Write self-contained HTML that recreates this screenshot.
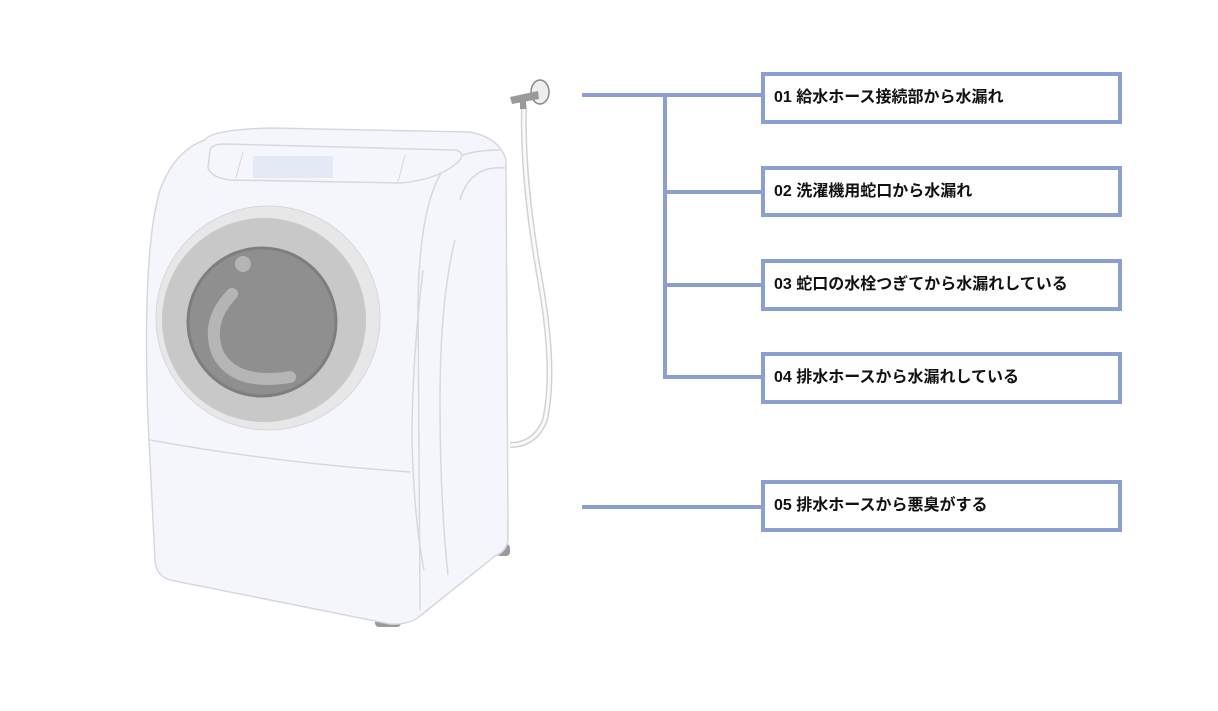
<!DOCTYPE html>
<html><head><meta charset="utf-8"><style>
html,body{margin:0;padding:0;background:#fff;}
body{width:1218px;height:711px;position:relative;overflow:hidden;font-family:"Liberation Sans","Noto Sans CJK JP",sans-serif;}
.box{position:absolute;left:761px;width:344px;border:4px solid #8c9fd2;background:#fff;box-sizing:content-box;font-weight:bold;font-size:16px;color:#111;line-height:44px;padding-left:9px;}
.l{position:absolute;background:#8c9fd2;}
</style></head><body>
<svg width="1218" height="711" style="position:absolute;left:0;top:0">
 <rect x="180" y="570" width="22" height="12" rx="4" fill="#9a9a9a"/>
 <rect x="375" y="615" width="26" height="12" rx="4" fill="#9a9a9a"/>
 <rect x="496" y="544" width="14" height="12" rx="4" fill="#9a9a9a"/>
 <path d="M205,140 Q210,130 270,128 L470,132 Q500,138 506,160 L508,540 Q506,552 495,556 L420,616 Q410,625 390,624 L170,580 Q156,576 155,560 L148,420 Q142,250 160,190 Q175,150 205,140 Z" fill="#f4f6fb" stroke="#d6d8de" stroke-width="1.5"/>
 <path d="M500,150 Q450,150 440,175 Q420,210 418,300 L420,610" fill="none" stroke="#d6d8de" stroke-width="1.5"/>
 <path d="M505,168 Q470,165 460,200" fill="none" stroke="#d6d8de" stroke-width="1.5"/>
 <path d="M455,240 Q440,300 440,400 Q440,500 448,575" fill="none" stroke="#d6d8de" stroke-width="1.5"/>
 <path d="M423,270 Q412,360 412,440 Q414,520 424,570" fill="none" stroke="#d6d8de" stroke-width="1.5"/>
 <path d="M210,150 Q212,144 225,144 L455,150 Q465,152 460,160 Q440,180 400,183 L230,180 Q212,178 208,168 Z" fill="#f4f6fb" stroke="#d6d8de" stroke-width="1.5"/>
 <rect x="253" y="156" width="80" height="22" fill="#e3e9f5"/>
 <line x1="243" y1="152" x2="236" y2="178" stroke="#d6d8de"/>
 <line x1="405" y1="155" x2="398" y2="182" stroke="#d6d8de"/>
 <path d="M150,440 Q270,462 410,472" fill="none" stroke="#d6d8de" stroke-width="1.5"/>
 <circle cx="268" cy="318" r="112" fill="#e7e7e7" stroke="#d6d8de"/>
 <circle cx="264" cy="320" r="102" fill="#c8c8c8"/>
 <circle cx="262" cy="322" r="74" fill="#8f8f8f" stroke="#7e7e7e" stroke-width="3"/>
 <path d="M232,294 Q205,322 218,354 Q235,386 290,377" fill="none" stroke="#b5b5b5" stroke-width="12" stroke-linecap="round"/>
 <circle cx="243" cy="264" r="8" fill="#b5b5b5"/>
 <path d="M524,105 Q522,180 540,280 Q556,370 545,420 Q535,445 510,445" fill="none" stroke="#d2d2d2" stroke-width="6"/>
 <path d="M524,105 Q522,180 540,280 Q556,370 545,420 Q535,445 510,445" fill="none" stroke="#fafafa" stroke-width="3"/>
 <ellipse cx="540" cy="92" rx="9" ry="12" fill="#eee" stroke="#888" stroke-width="1.5"/>
 <path d="M510,97 L538,91 L539,99 L512,104 Z" fill="#999"/>
 <rect x="520" y="99" width="6" height="10" fill="#999"/>
</svg>
<div class="l" style="left:582px;top:93px;width:180px;height:4px"></div>
<div class="l" style="left:663px;top:93px;width:4px;height:286px"></div>
<div class="l" style="left:663px;top:190px;width:99px;height:4px"></div>
<div class="l" style="left:663px;top:283px;width:99px;height:4px"></div>
<div class="l" style="left:663px;top:375px;width:99px;height:4px"></div>
<div class="l" style="left:582px;top:505px;width:180px;height:4px"></div>
<div class="box" style="top:72px;height:44px">01 給水ホース接続部から水漏れ</div>
<div class="box" style="top:166px;height:43px;line-height:43px">02 洗濯機用蛇口から水漏れ</div>
<div class="box" style="top:259px;height:44px">03 蛇口の水栓つぎてから水漏れしている</div>
<div class="box" style="top:352px;height:44px">04 排水ホースから水漏れしている</div>
<div class="box" style="top:480px;height:44px">05 排水ホースから悪臭がする</div>
</body></html>
